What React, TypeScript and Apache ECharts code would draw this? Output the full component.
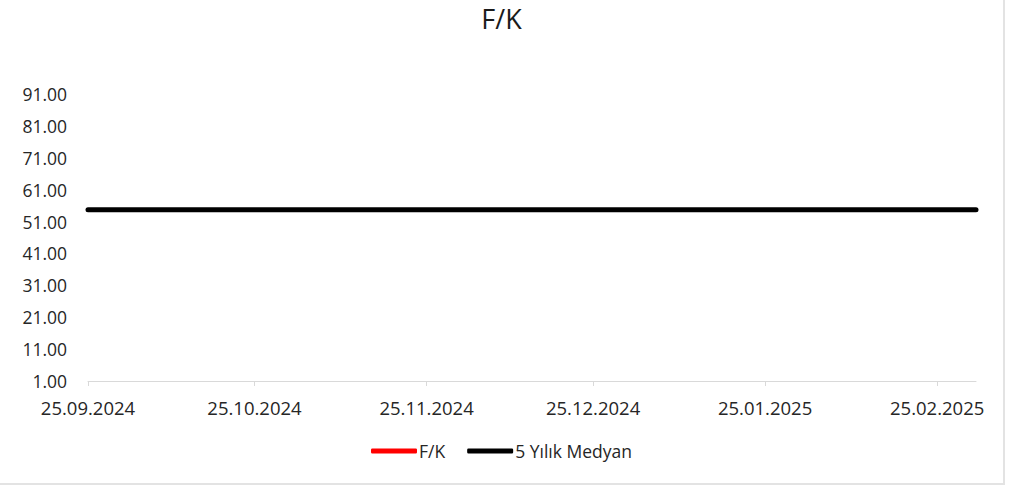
import React, { useEffect, useRef } from "react";
import * as echarts from "echarts";

const titleText = "F/K";
const seriesNames = ["F/K", "5 Yılık Medyan"];
const tickDates = ["2024-09-25", "2024-10-25", "2024-11-25", "2024-12-25", "2025-01-25", "2025-02-25"];
const axisStart = "2024-09-25";
const axisEnd = "2025-03-04";
const fkDates: string[] = [];
const fkValues: number[] = [];
const medianDates = ["2024-09-25", "2025-03-04"];
const medianValues = [54.7, 54.7];
const yMin = 1;
const yMax = 91;
const yStep = 10;

const ts = (d: string) => new Date(d + "T00:00:00").getTime();
const fmtDate = (v: number) => {
  const d = new Date(v);
  const dd = String(d.getDate()).padStart(2, "0");
  const mm = String(d.getMonth() + 1).padStart(2, "0");
  return `${dd}.${mm}.${d.getFullYear()}`;
};

export default function App() {
  const ref = useRef<HTMLDivElement>(null);
  useEffect(() => {
    if (!ref.current) return;
    const chart = echarts.init(ref.current, null, { renderer: "svg" });
    const font = "'Open Sans', 'Noto Sans', sans-serif";
    chart.setOption({
      animation: false,
      backgroundColor: "#ffffff",
      textStyle: { fontFamily: font },
      title: {
        text: titleText,
        left: "center",
        top: 0,
        textStyle: { fontSize: 27, fontWeight: "normal", color: "#1a1a1a", fontFamily: font },
      },
      legend: {
        bottom: 18,
        left: "center",
        itemWidth: 46,
        itemHeight: 5,
        itemGap: 22,
        icon: "roundRect",
        textStyle: { fontSize: 17.5, color: "#262626", fontFamily: font, padding: [0, 0, 0, -3] },
        data: seriesNames,
      },
      grid: { left: 88, right: 27, top: 94, bottom: 102, containLabel: false },
      xAxis: {
        type: "value",
        min: ts(axisStart),
        max: ts(axisEnd),
        axisLine: { show: true, lineStyle: { color: "#d9d9d9", width: 1 } },
        axisTick: { show: true, length: 5, lineStyle: { color: "#d9d9d9" }, customValues: tickDates.map(ts) },
        splitLine: { show: false },
        axisLabel: {
          customValues: tickDates.map(ts),
          formatter: (v: number) => fmtDate(v),
          fontSize: 18.5,
          color: "#262626",
          margin: 17,
          fontFamily: font,
        },
      },
      yAxis: {
        type: "value",
        min: yMin,
        max: yMax,
        interval: yStep,
        axisLine: { show: false },
        axisTick: { show: false },
        splitLine: { show: false },
        axisLabel: {
          formatter: (v: number) => v.toFixed(2),
          fontSize: 17.5,
          color: "#262626",
          margin: 21,
          fontFamily: font,
        },
      },
      series: [
        {
          name: seriesNames[0],
          type: "line",
          showSymbol: false,
          color: "#ff0000",
          lineStyle: { width: 4, color: "#ff0000" },
          data: fkDates.map((d, i) => [ts(d), fkValues[i]]),
        },
        {
          name: seriesNames[1],
          type: "line",
          showSymbol: false,
          color: "#000000",
          lineStyle: { width: 5, color: "#000000", cap: "round" },
          data: medianDates.map((d, i) => [ts(d), medianValues[i]]),
        },
      ],
    });
    return () => chart.dispose();
  }, []);
  return (
    <div
      ref={ref}
      style={{
        position: "fixed",
        left: 0,
        top: 0,
        width: 1003,
        height: 483,
        borderRight: "2px solid #e3e3e3",
        borderBottom: "2px solid #e3e3e3",
        background: "#fff",
      }}
    />
  );
}
